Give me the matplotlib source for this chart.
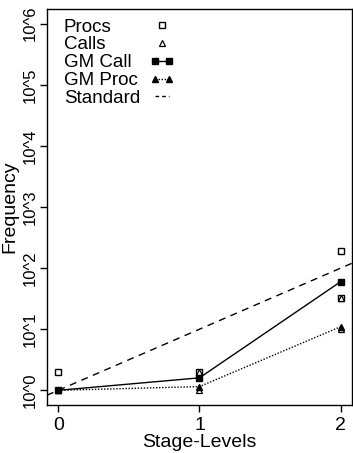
import matplotlib
matplotlib.use("Agg")
import matplotlib.pyplot as plt
from matplotlib.ticker import FixedLocator, FixedFormatter, NullLocator
from matplotlib.legend_handler import HandlerLine2D
from matplotlib.lines import Line2D

plt.rcParams['font.family'] = ['Liberation Sans', 'DejaVu Sans']

stages = [0, 1, 2]
procs_x = [0, 1, 2, 2]
procs_y = [2.0, 2.0, 190.0, 32.0]
calls_x = [0, 1, 1, 2, 2]
calls_y = [1.0, 1.0, 2.0, 10.0, 32.0]
gm_call = [1.0, 1.6, 60.0]
gm_proc = [1.0, 1.15, 11.0]
standard_x = [-0.08, 2.08]
standard_y = [10 ** -0.08, 10 ** 2.08]
ytick_vals = [1, 10, 100, 1000, 1e4, 1e5, 1e6]
ytick_labels = ["10^0", "10^1", "10^2", "10^3", "10^4", "10^5", "10^6"]
xtick_vals = [0, 1, 2]
xtick_labels = ["0", "1", "2"]
legend_labels = ["Procs", "Calls", "GM Call", "GM Proc", "Standard"]


class RightMarker(HandlerLine2D):
    def get_xdata(self, legend, xdescent, ydescent, width, height, fontsize):
        xd, xm = super().get_xdata(legend, xdescent, ydescent, width, height, fontsize)
        return xd, [-xdescent + width * 0.8]


fig = plt.figure(figsize=(3.53, 4.53), dpi=100)
ax = fig.add_axes([0.133, 0.106, 0.864, 0.874])
ax.set_yscale('log')

lp, = ax.plot(procs_x, procs_y, linestyle='none', marker='s', markersize=5,
              markerfacecolor='white', markeredgecolor='black', markeredgewidth=1.0)
lc, = ax.plot(calls_x, calls_y, linestyle='none', marker='^', markersize=5,
              markerfacecolor='white', markeredgecolor='black', markeredgewidth=0.9)
lgc, = ax.plot(stages, gm_call, linestyle='-', color='black', linewidth=1.0, marker='s',
               markersize=5, markerfacecolor='black')
lgp, = ax.plot(stages, gm_proc, linestyle=(0, (1, 1.2)), color='black', linewidth=1.0, marker='^',
               markersize=5, markerfacecolor='black')
ax.plot(standard_x, standard_y, linestyle=(0, (5, 4)), color='black', linewidth=1.0)
std_proxy = Line2D([], [], linestyle=(0, (2.6, 2.2)), color='black', linewidth=1.0)

ax.set_xlim(-0.08, 2.08)
ax.set_ylim(10 ** -0.24, 10 ** 6.24)

ax.yaxis.set_major_locator(FixedLocator(ytick_vals))
ax.yaxis.set_major_formatter(FixedFormatter(ytick_labels))
ax.yaxis.set_minor_locator(NullLocator())
ax.xaxis.set_major_locator(FixedLocator(xtick_vals))
ax.xaxis.set_major_formatter(FixedFormatter(xtick_labels))

ax.tick_params(axis='both', direction='out', length=5, width=1.0, labelsize=12, colors='black')
ax.tick_params(axis='x', labelsize=14)
ax.tick_params(axis='y', pad=1.5)
for lab in ax.get_yticklabels():
    lab.set_rotation(90)
    lab.set_va('center')
for sp in ax.spines.values():
    sp.set_linewidth(1.0)

ax.set_xlabel('Stage-Levels', fontsize=14, labelpad=0)
ax.set_ylabel('Frequency', fontsize=14, labelpad=3)

leg_fs = 13.5
leg_pad = 0.48
leg = ax.legend([lp, lc, lgc, lgp, std_proxy], legend_labels,
                loc='upper left', bbox_to_anchor=(0.025, 1.0), frameon=False, markerfirst=False,
                fontsize=leg_fs, handlelength=1.33, handletextpad=leg_pad, labelspacing=0.04,
                borderaxespad=0.1, numpoints=2,
                handler_map={lp: RightMarker(numpoints=1), lc: RightMarker(numpoints=1)})

# left-align legend labels while keeping the handles in one column
fig.canvas.draw()
renderer = fig.canvas.get_renderer()
pt_per_px = 72.0 / fig.dpi
widths = [t.get_window_extent(renderer).width * pt_per_px for t in leg.get_texts()]
maxw = max(widths)
k = 0
for col in leg._legend_handle_box.get_children():
    col.align = 'left'
    for item in col.get_children():
        item.sep = leg_pad * leg_fs + (maxw - widths[k])
        k += 1

fig.savefig('out.png', dpi=100)
